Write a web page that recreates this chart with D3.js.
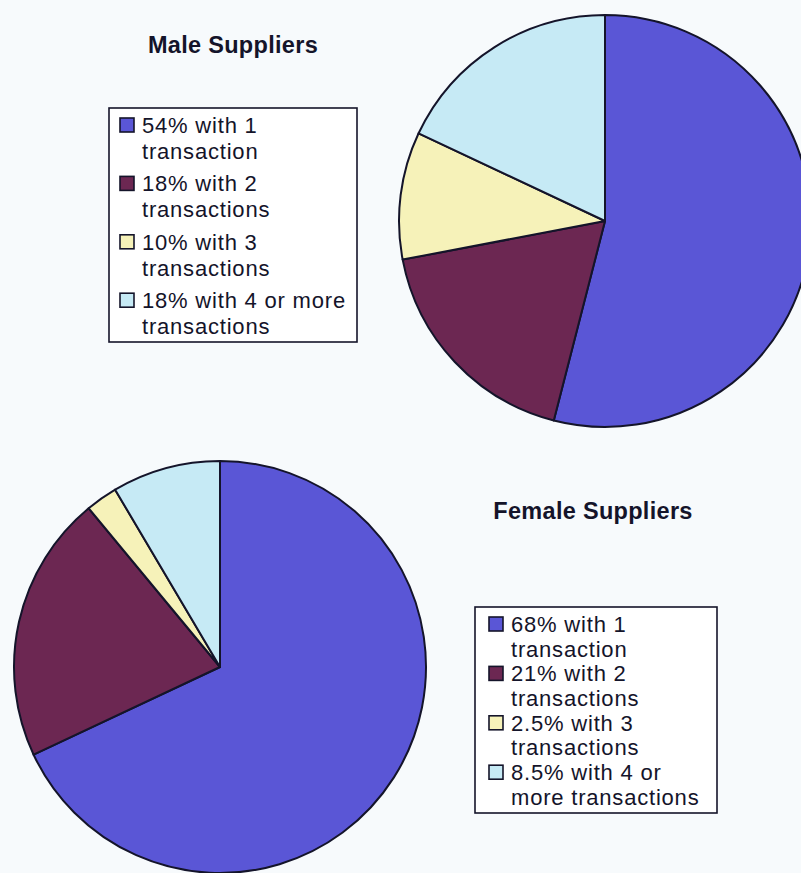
<!DOCTYPE html>
<html>
<head>
<meta charset="utf-8">
<script src="https://cdn.jsdelivr.net/npm/d3@7"></script>
<style>
  html, body { margin: 0; padding: 0; background: #f7fafc; }
  svg { display: block; }
</style>
</head>
<body>
<svg id="chart" width="801" height="873"></svg>
<script>
// Share of suppliers by number of transactions
const categories = ["1 transaction", "2 transactions", "3 transactions", "4 or more transactions"];
const maleValues = [54, 18, 10, 18];
const femaleValues = [68, 21, 2.5, 8.5];
const sliceColors = ["#5a56d6", "#6c2752", "#f6f2b9", "#c6eaf5"];

// Legend line wrapping (text after the percentage, split per line)
const maleWrap = [["with 1", "transaction"], ["with 2", "transactions"], ["with 3", "transactions"], ["with 4 or more", "transactions"]];
const femaleWrap = [["with 1", "transaction"], ["with 2", "transactions"], ["with 3", "transactions"], ["with 4 or", "more transactions"]];

const svg = d3.select("#chart");
const ink = "#14142a";
const font = "'Liberation Sans', Arial, Helvetica, sans-serif";

const pie = d3.pie().sort(null).value(d => d);
const color = d3.scaleOrdinal().domain(categories).range(sliceColors);

function drawPie(values, cx, cy, r) {
  const arc = d3.arc().innerRadius(0).outerRadius(r);
  const g = svg.append("g").attr("transform", `translate(${cx},${cy})`);
  g.selectAll("path")
    .data(pie(values))
    .join("path")
    .attr("d", arc)
    .attr("fill", (d, i) => color(categories[i]))
    .attr("stroke", ink)
    .attr("stroke-width", 2)
    .attr("stroke-linejoin", "round");
}

function drawTitle(text, x, y) {
  svg.append("text")
    .attr("x", x).attr("y", y)
    .attr("text-anchor", "middle")
    .attr("font-family", font)
    .attr("font-weight", "bold")
    .attr("font-size", 23.5)
    .attr("letter-spacing", 0.3)
    .attr("fill", ink)
    .text(text);
}

// opts: box, swatch x offset, first baseline, item pitch, gap between wrapped lines
function drawLegend(values, wrap, opts) {
  const { box, sx, first, pitch, gap } = opts;
  svg.append("rect")
    .attr("x", box.x).attr("y", box.y)
    .attr("width", box.w).attr("height", box.h)
    .attr("fill", "#ffffff")
    .attr("stroke", ink)
    .attr("stroke-width", 1.6);

  const items = svg.append("g")
    .selectAll("g")
    .data(values.map((v, i) => ({ v, i })))
    .join("g")
    .attr("transform", d => `translate(${box.x + sx},${first + d.i * pitch})`);

  items.append("rect")
    .attr("x", 0).attr("y", -15)
    .attr("width", 14).attr("height", 14)
    .attr("fill", d => color(categories[d.i]))
    .attr("stroke", ink)
    .attr("stroke-width", 1.6);

  const t = items.append("text")
    .attr("font-family", font)
    .attr("font-size", 22)
    .attr("letter-spacing", 0.8)
    .attr("fill", ink);
  t.append("tspan").attr("x", 22).attr("y", 0)
    .text(d => `${d.v}% ${wrap[d.i][0]}`);
  t.append("tspan").attr("x", 22).attr("y", gap)
    .text(d => wrap[d.i][1]);
}

// Male suppliers
drawTitle("Male Suppliers", 233, 53);
drawLegend(maleValues, maleWrap, { box: { x: 109, y: 108, w: 248, h: 234 }, sx: 11, first: 133, pitch: 58.4, gap: 26 });
drawPie(maleValues, 605, 221, 206);

// Female suppliers
drawTitle("Female Suppliers", 593, 519);
drawLegend(femaleValues, femaleWrap, { box: { x: 475, y: 607, w: 242, h: 206 }, sx: 14, first: 632, pitch: 49.4, gap: 24.7 });
drawPie(femaleValues, 220, 667, 206);
</script>
</body>
</html>
